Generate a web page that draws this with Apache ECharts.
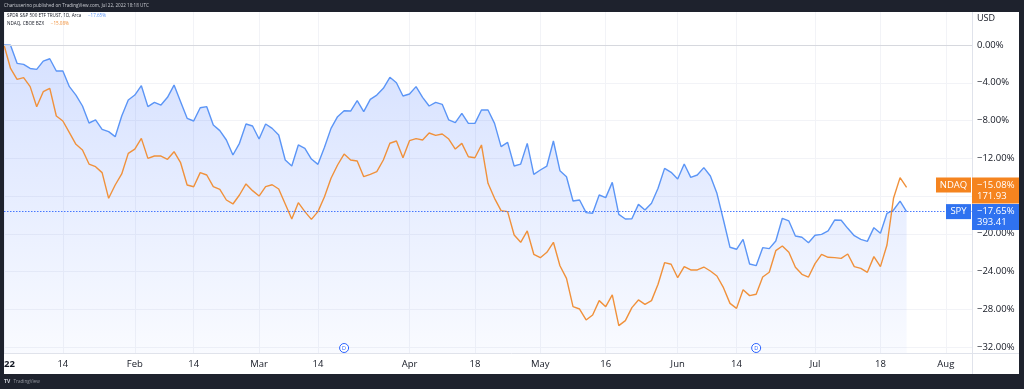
<!DOCTYPE html>
<html><head><meta charset="utf-8">
<script src="https://cdn.jsdelivr.net/npm/echarts@6/dist/echarts.min.js"></script>
<style>html,body{margin:0;padding:0;background:#1e222d;overflow:hidden}#c{width:1024px;height:389px}</style>
</head><body><div id="c"></div>
<script>
const categories = [
'2022-01-03','2022-01-04','2022-01-05','2022-01-06','2022-01-07','2022-01-10','2022-01-11','2022-01-12','2022-01-13','2022-01-14',
'2022-01-18','2022-01-19','2022-01-20','2022-01-21','2022-01-24','2022-01-25','2022-01-26','2022-01-27','2022-01-28','2022-01-31',
'2022-02-01','2022-02-02','2022-02-03','2022-02-04','2022-02-07','2022-02-08','2022-02-09','2022-02-10','2022-02-11','2022-02-14',
'2022-02-15','2022-02-16','2022-02-17','2022-02-18','2022-02-22','2022-02-23','2022-02-24','2022-02-25','2022-02-28',
'2022-03-01','2022-03-02','2022-03-03','2022-03-04','2022-03-07','2022-03-08','2022-03-09','2022-03-10','2022-03-11','2022-03-14',
'2022-03-15','2022-03-16','2022-03-17','2022-03-18','2022-03-21','2022-03-22','2022-03-23','2022-03-24','2022-03-25','2022-03-28',
'2022-03-29','2022-03-30','2022-03-31',
'2022-04-01','2022-04-04','2022-04-05','2022-04-06','2022-04-07','2022-04-08','2022-04-11','2022-04-12','2022-04-13','2022-04-14',
'2022-04-18','2022-04-19','2022-04-20','2022-04-21','2022-04-22','2022-04-25','2022-04-26','2022-04-27','2022-04-28','2022-04-29',
'2022-05-02','2022-05-03','2022-05-04','2022-05-05','2022-05-06','2022-05-09','2022-05-10','2022-05-11','2022-05-12','2022-05-13',
'2022-05-16','2022-05-17','2022-05-18','2022-05-19','2022-05-20','2022-05-23','2022-05-24','2022-05-25','2022-05-26','2022-05-27','2022-05-31',
'2022-06-01','2022-06-02','2022-06-03','2022-06-06','2022-06-07','2022-06-08','2022-06-09','2022-06-10','2022-06-13','2022-06-14',
'2022-06-15','2022-06-16','2022-06-17','2022-06-21','2022-06-22','2022-06-23','2022-06-24','2022-06-27','2022-06-28','2022-06-29','2022-06-30',
'2022-07-01','2022-07-05','2022-07-06','2022-07-07','2022-07-08','2022-07-11','2022-07-12','2022-07-13','2022-07-14','2022-07-15',
'2022-07-18','2022-07-19','2022-07-20','2022-07-21','2022-07-22',
'2022-07-25','2022-07-26','2022-07-27','2022-07-28','2022-07-29',
'2022-08-01','2022-08-02','2022-08-03','2022-08-04','2022-08-05'
];

const spy = [
0, -0.03, -1.94, -2.05, -2.48, -2.58, -1.70, -1.45, -2.75, -2.75,
-4.41, -5.30, -6.46, -8.26, -7.94, -8.93, -9.18, -9.71, -7.52, -5.83,
-5.30, -4.31, -6.53, -6.07, -6.36, -5.54, -4.24, -6.00, -7.77, -8.05,
-6.64, -6.53, -8.47, -9.07, -10.06, -11.65, -10.41, -8.37, -8.58, -9.96,
-8.37, -8.83, -9.53, -12.18, -12.82, -10.59, -10.95, -12.08, -12.64, -10.84,
-8.83, -7.59, -6.96, -6.99, -5.90, -7.06, -5.75, -5.30, -4.59, -3.42,
-3.99, -5.40, -5.19, -4.41, -5.54, -6.46, -6.07, -6.28, -7.94, -8.23,
-7.24, -8.30, -8.30, -6.89, -6.89, -8.30, -10.77, -10.31, -12.82, -12.61,
-10.42, -13.70, -13.24, -12.82, -10.17, -13.31, -13.95, -16.53, -16.42, -17.76,
-17.83, -15.89, -16.17, -14.55, -17.94, -18.43, -18.40, -16.88, -17.48, -16.77,
-15.18, -13.07, -13.49, -14.19, -12.61, -14.02, -13.77, -12.99, -13.88, -15.71,
-18.54, -21.43, -21.64, -20.59, -23.20, -23.38, -21.47, -21.57, -20.76, -18.36,
-18.64, -20.23, -20.37, -20.94, -20.16, -20.06, -19.70, -18.54, -18.57, -19.42,
-20.20, -20.59, -20.80, -19.35, -19.95, -17.83, -17.48, -16.53, -17.65
];

const ndaq = [
0, -2.48, -3.64, -3.46, -4.41, -6.53, -4.94, -4.59, -7.52, -8.05,
-9.29, -10.52, -11.12, -12.61, -12.89, -13.52, -16.24, -14.83, -13.66, -11.48,
-11.02, -9.89, -12.01, -11.76, -11.76, -12.11, -11.30, -12.47, -14.83, -15.01,
-13.52, -13.77, -15.01, -15.29, -16.42, -16.84, -15.89, -14.72, -15.43, -16.00,
-15.01, -14.80, -15.25, -16.84, -18.43, -16.70, -17.65, -18.47, -17.65, -16.07,
-14.12, -12.71, -11.55, -12.18, -12.29, -13.95, -13.70, -13.42, -12.18, -10.41,
-10.17, -11.94, -10.13, -9.92, -10.06, -9.32, -9.57, -9.43, -9.96, -11.02,
-10.42, -11.83, -11.94, -10.59, -14.65, -16.24, -17.55, -17.65, -20.13, -20.90,
-19.70, -22.17, -22.53, -21.96, -20.90, -23.38, -24.72, -27.72, -27.97, -29.13,
-28.60, -27.08, -27.72, -26.48, -29.73, -29.20, -27.82, -27.01, -27.47, -27.08,
-25.35, -23.06, -23.23, -24.65, -23.48, -23.83, -23.83, -23.52, -23.94, -24.47,
-25.71, -27.37, -27.90, -25.92, -26.55, -26.41, -24.58, -24.08, -21.79, -21.29,
-21.96, -23.55, -24.29, -24.58, -23.16, -22.17, -22.49, -22.53, -22.60, -22.14,
-23.48, -23.66, -24.08, -22.42, -23.48, -21.19, -16.24, -14.05, -15.08
];

const xTickDates = ['2022-01-03','2022-01-14','2022-02-01','2022-02-14','2022-03-01','2022-03-14','2022-04-01','2022-04-18',
  '2022-05-02','2022-05-16','2022-06-01','2022-06-14','2022-07-01','2022-07-18','2022-08-01'];
const xTickLabels = ['2022','14','Feb','14','Mar','14','Apr','18','May','16','Jun','14','Jul','18','Aug'];
const yGridValues = [0,-4,-8,-12,-16,-20,-24,-28,-32];
const yLabelValues = [0,-4,-8,-12,-20,-24,-28,-32];
const dividendDates = ['2022-03-18','2022-06-17'];
const spyName = 'SPDR S&P 500 ETF TRUST, 1D, Arca';
const ndaqName = 'NDAQ, CBOE BZX';
const spyTag = 'SPY', ndaqTag = 'NDAQ';
const spyLast = -17.65, spyPrice = '393.41';
const ndaqLast = -15.08, ndaqPrice = '171.93';
const headerText = 'Chartuserino published on TradingView.com, Jul 22, 2022 18:18 UTC';

const FONT = '"Open Sans", "DejaVu Sans", sans-serif';
const BLUE = '#5b95f6', ORANGE = '#f0913b';
const BLUE_TAG = '#2f72f0', ORANGE_TAG = '#f5841f';
const TXT = '#131722';
const fmtPct = v => (v < 0 ? '\u2212' : '') + Math.abs(v).toFixed(2) + '%';
const tickMap = {};
xTickDates.forEach((d, i) => tickMap[d] = xTickLabels[i]);

const chart = echarts.init(document.getElementById('c'), null, {renderer: 'canvas'});
chart.setOption({
  backgroundColor: '#ffffff',
  animation: false,
  textStyle: {fontFamily: FONT},
  grid: {left: 4, right: 52, top: 12, bottom: 36, containLabel: false, outerBoundsMode: 'none'},
  xAxis: {
    type: 'category', data: categories, boundaryGap: false,
    axisLine: {show: false}, axisTick: {show: false},
    axisLabel: {
      interval: (i, v) => v in tickMap,
      formatter: v => /^\d{4}$/.test(tickMap[v]) ? '{y|' + tickMap[v] + '}' : tickMap[v],
      color: TXT, fontSize: 9.5, fontFamily: FONT, margin: 6,
      rich: {y: {fontWeight: 'bold', fontSize: 9.5, color: TXT, fontFamily: FONT}}
    },
    splitLine: {show: true, interval: (i, v) => v in tickMap, lineStyle: {color: '#f2f3f7', width: 1}}
  },
  yAxis: {
    type: 'value', position: 'right', min: -32.63, max: 3.5,
    axisLine: {show: false},
    axisTick: {show: false, customValues: yGridValues},
    axisLabel: {customValues: yLabelValues, formatter: fmtPct, color: TXT, fontSize: 9.5, fontFamily: FONT, margin: 5},
    splitLine: {show: true, lineStyle: {color: '#f2f3f7', width: 1}}
  },
  series: [
    {
      name: 'SPY', type: 'line', data: spy, symbol: 'none', z: 3,
      lineStyle: {color: BLUE, width: 1.4},
      itemStyle: {color: BLUE},
      areaStyle: {
        origin: 'start',
        color: new echarts.graphic.LinearGradient(0, 0, 0, 1, [
          {offset: 0, color: 'rgba(41,98,255,0.28)'},
          {offset: 1, color: 'rgba(41,98,255,0.04)'}
        ])
      },
      markLine: {
        silent: true, symbol: 'none', label: {show: false}, animation: false,
        lineStyle: {color: '#d6d8de', width: 1, type: 'solid'},
        data: [{yAxis: 0}]
      }
    },
    {
      name: 'NDAQ', type: 'line', data: ndaq, symbol: 'none', z: 4,
      lineStyle: {color: ORANGE, width: 1.4},
      itemStyle: {color: ORANGE},
      markLine: {
        silent: true, symbol: 'none', label: {show: false}, animation: false,
        lineStyle: {color: '#2962ff', width: 1, type: [1.5, 1.5], opacity: 0.85},
        data: [{yAxis: spyLast}]
      }
    }
  ]
});

const W = 1024, H = 389, FRAME = '#1e222d';
const g = [];
g.push({type: 'line', shape: {x1: 972.5, y1: 12, x2: 972.5, y2: 374}, style: {stroke: '#e0e3eb', lineWidth: 1}, z: 50});
g.push({type: 'line', shape: {x1: 4, y1: 353.5, x2: 1019, y2: 353.5}, style: {stroke: '#e0e3eb', lineWidth: 1}, z: 50});
g.push({type: 'text', x: 977, y: 18, style: {text: 'USD', fill: TXT, fontSize: 9, fontFamily: FONT, verticalAlign: 'middle'}, z: 60});

// legend
g.push({type: 'text', x: 7, y: 16, z: 60, style: {
  text: '{n|' + spyName + '}  {v|' + fmtPct(spyLast) + '}', verticalAlign: 'middle',
  rich: {n: {fill: TXT, fontSize: 4.6, fontFamily: FONT}, v: {fill: BLUE, fontSize: 4.6, fontFamily: FONT}}}});
g.push({type: 'text', x: 7, y: 24, z: 60, style: {
  text: '{n|' + ndaqName + '}  {v|' + fmtPct(ndaqLast) + '}', verticalAlign: 'middle',
  rich: {n: {fill: TXT, fontSize: 4.6, fontFamily: FONT}, v: {fill: ORANGE, fontSize: 4.6, fontFamily: FONT}}}});

// dividend markers
dividendDates.forEach(d => {
  const x = chart.convertToPixel({xAxisIndex: 0}, d);
  g.push({type: 'circle', shape: {cx: x, cy: 348, r: 4.5}, style: {fill: '#ffffff', stroke: '#2962ff', lineWidth: 1}, z: 60});
  g.push({type: 'text', x: x, y: 348, style: {text: 'D', fill: '#2962ff', fontSize: 5.5, fontFamily: FONT, align: 'center', verticalAlign: 'middle'}, z: 61});
});

// last value labels
const yS = chart.convertToPixel({yAxisIndex: 0}, spyLast);
const yN = Math.min(chart.convertToPixel({yAxisIndex: 0}, ndaqLast), yS - 26.5);
function priceLabel(yc, tag, tagW, pct, price, col) {
  g.push({type: 'rect', shape: {x: 971 - tagW, y: yc - 7.5, width: tagW, height: 15}, style: {fill: col}, z: 70});
  g.push({type: 'text', x: 971 - tagW / 2, y: yc, style: {text: tag, fill: '#ffffff', fontSize: 9.5, fontFamily: FONT, align: 'center', verticalAlign: 'middle'}, z: 71});
  g.push({type: 'rect', shape: {x: 972, y: yc - 7.5, width: 47, height: 26}, style: {fill: col}, z: 70});
  g.push({type: 'text', x: 977, y: yc, style: {text: pct, fill: '#ffffff', fontSize: 9.5, fontFamily: FONT, verticalAlign: 'middle'}, z: 71});
  g.push({type: 'text', x: 977, y: yc + 11, style: {text: price, fill: '#ffffff', fontSize: 9.5, fontFamily: FONT, verticalAlign: 'middle'}, z: 71});
}
priceLabel(yN, ndaqTag, 35, fmtPct(ndaqLast), ndaqPrice, ORANGE_TAG);
priceLabel(yS, spyTag, 25, fmtPct(spyLast), spyPrice, BLUE_TAG);

// dark frame
[[0, 0, W, 12], [0, 0, 4, H], [1019, 0, 5, H], [0, 374, W, 15]].forEach(r =>
  g.push({type: 'rect', shape: {x: r[0], y: r[1], width: r[2], height: r[3]}, style: {fill: FRAME}, z: 100}));
g.push({type: 'text', x: 4, y: 6, style: {text: headerText, fill: '#c9cbd1', fontSize: 4.6, fontFamily: FONT, verticalAlign: 'middle'}, z: 101});
g.push({type: 'text', x: 4, y: 381.5, style: {text: '{l|TV} {t|TradingView}', verticalAlign: 'middle',
  rich: {l: {fill: '#d1d4dc', fontSize: 5, fontWeight: 'bold', fontFamily: FONT}, t: {fill: '#9598a1', fontSize: 4.6, fontFamily: FONT}}}, z: 101});

chart.setOption({graphic: {elements: g}});
</script>
</body></html>
